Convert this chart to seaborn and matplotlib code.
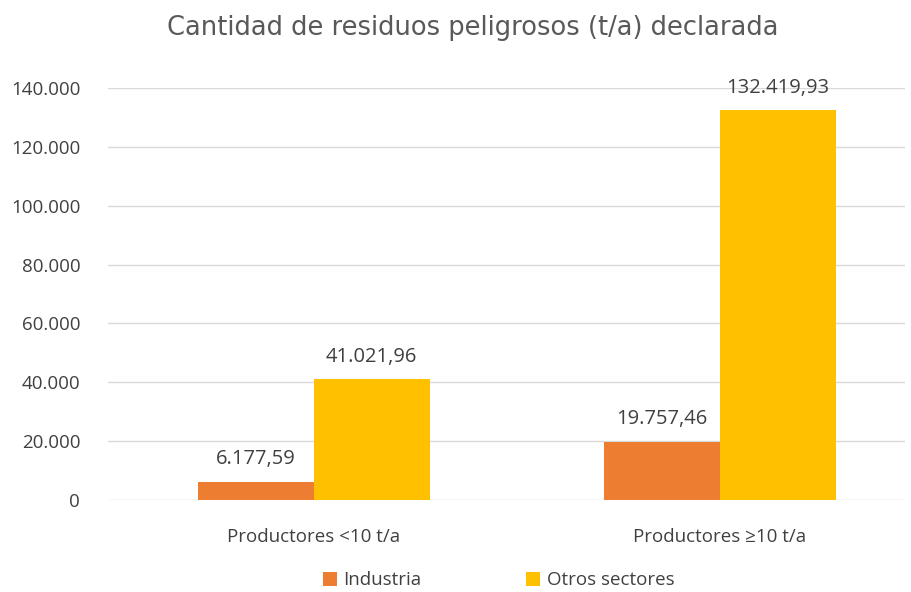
import matplotlib.pyplot as plt
import pandas as pd
import seaborn as sns

# Data
categories = ['Productores <10 t/a', 'Productores ≥10 t/a']
series = ['Industria', 'Otros sectores']
industria = [6177.59, 19757.46]
otros = [41021.96, 132419.93]
colors = ['#ED7D31', '#FFC000']
yticks = [0, 20000, 40000, 60000, 80000, 100000, 120000, 140000]


def fmt_es(v, dec=0):
    s = f'{v:,.{dec}f}'
    return s.replace(',', 'X').replace('.', ',').replace('X', '.')


df = pd.DataFrame({
    'cat': categories * 2,
    'serie': [series[0]] * 2 + [series[1]] * 2,
    'valor': industria + otros,
})

sns.set_style('white')
plt.rcParams['font.family'] = ['Open Sans', 'DejaVu Sans']

fig = plt.figure(figsize=(9.11, 5.92), dpi=100)
ax = fig.add_axes([108 / 911, 1 - 500 / 592, 797 / 911, 412 / 592])

sns.barplot(data=df, x='cat', y='valor', hue='serie', hue_order=series,
            palette=colors, width=0.57, saturation=1, linewidth=0, ax=ax, legend=True)

ax.set_ylim(0, 140000)
ax.set_xlim(-0.507, 1.456)
ax.set_yticks(yticks)
ax.set_yticklabels([fmt_es(v) for v in yticks], fontsize=13.5, color='#404040')
ax.tick_params(axis='y', length=0, pad=20)
ax.tick_params(axis='x', length=0, pad=20, labelsize=13.5, labelcolor='#404040')
ax.yaxis.grid(True, color='#D9D9D9', linewidth=1)
ax.set_axisbelow(True)
for s in ax.spines.values():
    s.set_visible(False)
ax.set_xlabel('')
ax.set_ylabel('')

for cont in ax.containers:
    labels = [fmt_es(b.get_height(), 2) for b in cont]
    ax.bar_label(cont, labels=labels, padding=9, fontsize=14.5, color='#404040')

ax.legend(loc='center', bbox_to_anchor=(0.49, -0.195), ncol=2, frameon=False,
          fontsize=13.5, handlelength=0.75, handleheight=0.75, columnspacing=5.6,
          handletextpad=0.35, labelcolor='#404040')

fig.text(473 / 911, 1 - 28 / 592, 'Cantidad de residuos peligrosos (t/a) declarada',
         ha='center', va='center', fontsize=18.5, color='#595959',
         family=['DejaVu Sans'])

fig.savefig('out.png', dpi=100)
